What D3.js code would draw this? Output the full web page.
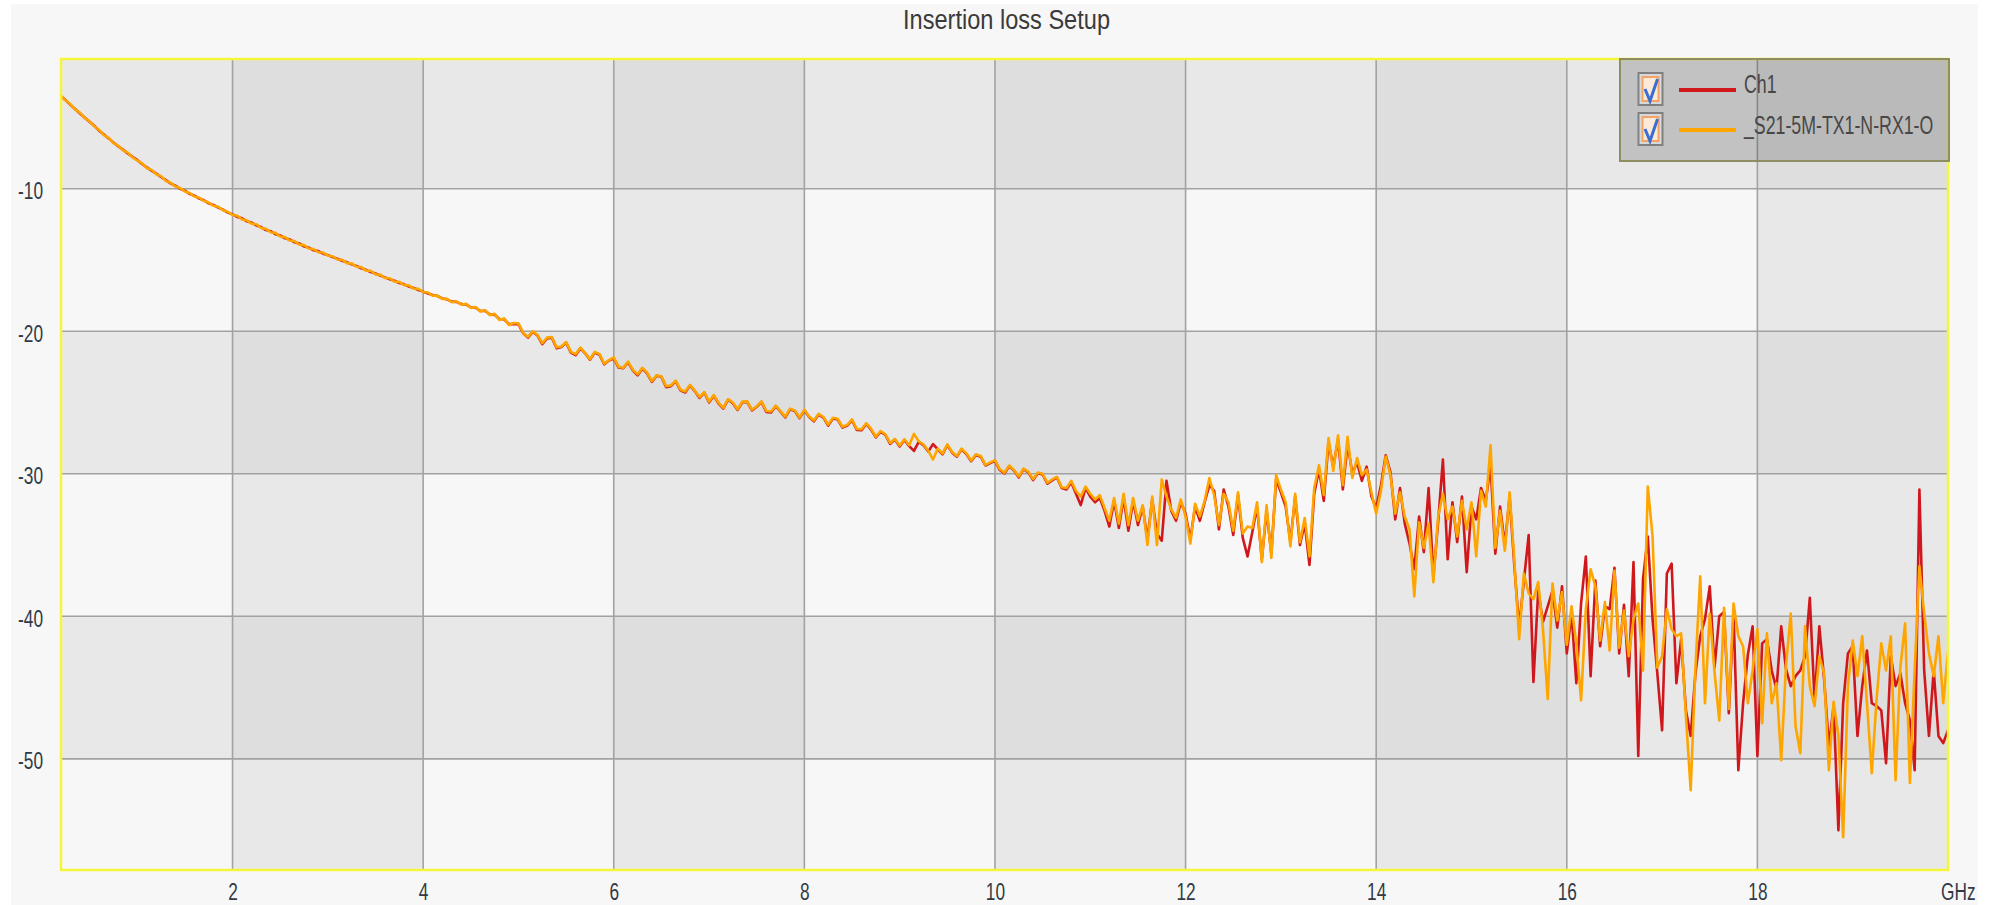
<!DOCTYPE html>
<html>
<head>
<meta charset="utf-8">
<script src="https://cdn.jsdelivr.net/npm/d3@7"></script>
<style>
  html, body { margin: 0; padding: 0; background: #ffffff; }
  svg { display: block; }
</style>
</head>
<body>
<svg id="chart" width="1990" height="905"></svg>
<script>
// ---------------- data ----------------
const chartTitle = "Insertion loss Setup";
const seriesNames = ["Ch1", "_S21-5M-TX1-N-RX1-O"];
const xTicks = [2, 4, 6, 8, 10, 12, 14, 16, 18];
const yTicks = [-10, -20, -30, -40, -50];
const xUnit = "GHz";
const xDomain = [0.2, 20];
const yDomain = [-57.8, -0.9];
const freqStart = 0.2;   // GHz, first sweep point
const freqStep = 0.05;   // GHz, sweep step

// Ch1 (red), dB, one row per GHz
const ch1 = [
  -3.52, -3.8, -4.12, -4.42, -4.72, -5.02, -5.3, -5.6, -5.93, -6.2, -6.47, -6.76, -7.02, -7.26, -7.52, -7.76,
  -7.98, -8.27, -8.5, -8.73, -8.94, -9.18, -9.4, -9.63, -9.79, -10.01, -10.14, -10.36, -10.49, -10.69, -10.81, -11.03, -11.14, -11.33, -11.47, -11.68,
  -11.8, -11.98, -12.08, -12.29, -12.38, -12.58, -12.69, -12.9, -12.98, -13.19, -13.28, -13.48, -13.56, -13.76, -13.84, -14.05, -14.13, -14.32, -14.38, -14.56,
  -14.66, -14.8, -14.92, -15.05, -15.16, -15.31, -15.42, -15.58, -15.69, -15.85, -15.95, -16.1, -16.22, -16.36, -16.46, -16.62, -16.71, -16.86, -16.96, -17.11,
  -17.22, -17.35, -17.46, -17.53, -17.7, -17.76, -17.92, -17.94, -18.1, -18.12, -18.32, -18.34, -18.58, -18.56, -18.82, -18.84, -19.14, -19.16, -19.5, -19.5,
  -19.5, -20.15, -20.45, -20.05, -20.3, -20.9, -20.5, -20.45, -21.2, -21.1, -20.8, -21.5, -21.68, -21.2, -21.55, -22.0, -21.5, -21.65, -22.32, -22.05,
  -21.9, -22.55, -22.6, -22.18, -22.74, -23.1, -22.62, -22.95, -23.56, -23.12, -23.2, -23.92, -23.85, -23.5, -24.15, -24.3, -23.8, -24.2, -24.68, -24.3,
  -25.0, -24.52, -25.08, -25.42, -24.8, -25.05, -25.52, -24.98, -24.96, -25.56, -25.3, -24.96, -25.66, -25.7, -25.26, -25.65, -26.05, -25.48, -25.6, -26.1,
  -25.55, -26.02, -26.32, -25.85, -26.06, -26.62, -26.12, -26.2, -26.76, -26.62, -26.24, -26.92, -26.95, -26.5, -26.9, -27.45, -27.05, -27.28, -27.9, -27.6,
  -28.08, -27.62, -28.06, -28.4, -27.76, -28.0, -28.44, -27.92, -28.28, -28.64, -27.98, -28.52, -28.8, -28.28, -28.62, -29.12, -28.68, -28.8, -29.42, -29.25,
  -29.1, -29.74, -29.98, -29.46, -29.78, -30.26, -29.68, -29.9, -30.44, -29.96, -30.05, -30.7, -30.46, -30.26, -31.0, -31.1, -30.6, -31.4, -32.2, -31.0,
  -31.6, -32.0, -31.7, -32.6, -33.7, -31.9, -33.8, -31.7, -34.0, -31.9, -33.6, -32.3, -34.6, -31.8, -34.2, -34.7, -30.5, -32.6, -33.3, -32.0,
  -32.8, -34.6, -32.3, -33.3, -32.0, -30.8, -31.2, -33.9, -31.1, -32.3, -34.3, -31.5, -34.5, -35.8, -34.1, -32.3, -36.0, -32.6, -35.6, -30.4,
  -31.3, -32.3, -34.8, -31.6, -35.0, -33.5, -36.4, -31.4, -29.7, -31.9, -27.8, -29.5, -27.6, -31.1, -27.9, -30.0, -29.2, -30.5, -29.5, -31.6,
  -32.4, -30.8, -28.7, -29.9, -33.2, -31.0, -33.5, -34.9, -36.7, -33.0, -35.5, -31.0, -37.2, -33.4, -29.0, -36.0, -32.0, -34.8, -31.6, -36.9,
  -32.3, -33.2, -31.0, -31.9, -29.4, -35.6, -32.3, -35.0, -31.6, -36.5, -40.8, -37.5, -34.3, -44.6, -38.2, -40.4, -39.3, -38.2, -40.8, -37.9,
  -42.6, -39.8, -44.7, -39.1, -35.8, -44.2, -37.5, -42.1, -39.3, -39.5, -36.6, -42.6, -39.2, -44.2, -36.2, -49.8, -37.4, -34.4, -40.2, -44.0,
  -48.0, -37.0, -36.3, -44.7, -41.6, -46.6, -48.4, -44.0, -41.4, -40.2, -37.9, -43.6, -40.0, -39.7, -46.8, -39.8, -50.8, -46.1, -42.7, -40.7,
  -49.8, -41.9, -41.6, -43.8, -45.1, -40.7, -43.7, -44.9, -44.2, -43.8, -42.8, -38.7, -45.9, -40.7, -44.4, -49.1, -46.3, -55.0, -46.1, -42.6,
  -42.1, -48.4, -44.9, -42.4, -46.1, -46.3, -46.6, -50.3, -42.8, -44.9, -44.0, -46.1, -47.3, -50.8, -31.1, -43.8, -48.4, -43.8, -48.4, -48.9, -48.0
];

// _S21-5M-TX1-N-RX1-O (orange), dB, one row per GHz
const s21 = [
  -3.5, -3.82, -4.08, -4.45, -4.68, -5.05, -5.27, -5.63, -5.88, -6.24, -6.43, -6.8, -6.98, -7.3, -7.47, -7.8,
  -8.02, -8.22, -8.55, -8.68, -8.99, -9.12, -9.45, -9.58, -9.84, -9.95, -10.19, -10.3, -10.55, -10.63, -10.86, -10.97, -11.2, -11.27, -11.52, -11.62,
  -11.85, -11.9, -12.16, -12.22, -12.45, -12.5, -12.76, -12.82, -13.06, -13.1, -13.36, -13.4, -13.64, -13.68, -13.92, -13.96, -14.2, -14.24, -14.46, -14.48,
  -14.7, -14.74, -14.97, -14.98, -15.22, -15.24, -15.48, -15.5, -15.75, -15.76, -16.01, -16.03, -16.27, -16.28, -16.52, -16.54, -16.77, -16.78, -17.02, -17.03,
  -17.25, -17.28, -17.5, -17.5, -17.73, -17.72, -17.96, -17.9, -18.14, -18.08, -18.36, -18.3, -18.62, -18.52, -18.87, -18.78, -19.2, -19.1, -19.56, -19.42,
  -19.45, -20.12, -20.4, -20.0, -20.27, -20.83, -20.45, -20.41, -21.13, -21.07, -20.76, -21.45, -21.61, -21.15, -21.53, -21.96, -21.45, -21.61, -22.27, -22.03,
  -21.84, -22.5, -22.56, -22.13, -22.7, -23.03, -22.57, -22.9, -23.5, -23.08, -23.17, -23.86, -23.8, -23.47, -24.1, -24.23, -23.77, -24.17, -24.62, -24.28,
  -24.94, -24.48, -25.02, -25.37, -24.76, -25.0, -25.47, -24.94, -24.92, -25.5, -25.28, -24.92, -25.6, -25.63, -25.22, -25.6, -25.99, -25.43, -25.57, -26.06,
  -25.5, -25.98, -26.26, -25.79, -26.02, -26.55, -26.07, -26.14, -26.7, -26.57, -26.19, -26.86, -26.88, -26.46, -26.83, -27.39, -27.0, -27.23, -27.84, -27.56,
  -28.02, -27.58, -28.0, -27.2, -27.72, -27.95, -28.38, -29.0, -28.23, -28.58, -27.94, -28.47, -28.75, -28.24, -28.57, -29.07, -28.63, -28.75, -29.37, -29.2,
  -29.04, -29.68, -29.92, -29.42, -29.73, -30.19, -29.64, -29.85, -30.38, -29.91, -30.0, -30.63, -30.4, -30.22, -30.94, -31.0, -30.5, -31.2, -31.6, -30.9,
  -31.4, -31.8, -31.5, -32.4, -33.3, -31.7, -33.5, -31.4, -33.6, -31.7, -33.3, -32.2, -35.0, -31.6, -35.0, -30.4, -31.6, -32.5, -33.1, -31.8,
  -33.0, -34.9, -32.1, -33.0, -31.9, -30.3, -31.5, -33.6, -31.4, -32.0, -34.0, -31.3, -34.2, -33.7, -33.8, -32.0, -36.2, -32.2, -35.9, -30.1,
  -31.1, -32.0, -35.1, -31.4, -34.8, -33.1, -35.8, -31.0, -29.4, -31.5, -27.5, -29.8, -27.3, -30.8, -27.4, -30.3, -28.9, -30.1, -29.7, -31.3,
  -32.8, -31.2, -28.8, -30.1, -32.8, -31.3, -33.0, -33.9, -38.6, -33.4, -35.2, -33.5, -37.6, -33.0, -31.4, -33.2, -32.3, -34.4, -31.9, -33.9,
  -32.0, -35.8, -31.2, -32.3, -28.0, -35.2, -32.6, -35.4, -31.3, -36.1, -41.6, -37.0, -38.4, -38.8, -37.6, -40.9, -45.8, -37.7, -40.3, -38.3,
  -42.0, -39.3, -41.9, -45.9, -39.5, -36.7, -37.9, -41.7, -39.0, -42.4, -36.8, -42.2, -39.6, -42.8, -40.2, -39.1, -43.8, -30.9, -34.4, -43.6,
  -42.8, -39.5, -40.9, -41.4, -41.2, -47.0, -52.2, -43.6, -37.2, -46.1, -39.8, -43.9, -47.3, -39.4, -46.5, -39.1, -41.4, -42.1, -46.1, -43.8,
  -40.9, -47.5, -41.2, -46.1, -44.7, -50.1, -43.5, -39.8, -47.7, -49.6, -40.7, -44.9, -46.3, -42.8, -44.0, -50.8, -46.0, -48.4, -55.5, -44.9,
  -41.7, -44.2, -41.4, -46.1, -51.0, -45.9, -41.9, -43.8, -41.4, -51.5, -43.6, -40.5, -51.7, -43.8, -36.5, -39.8, -42.6, -44.2, -41.4, -46.1, -42.5
];

const seriesColors = ["#d0181c", "#ffa500"];

// ---------------- layout ----------------
const svg = d3.select("#chart");
const plot = { left: 61, right: 1948, top: 59, bottom: 870 };
const FONT = "'Liberation Sans', Arial, 'DejaVu Sans', sans-serif";
const TEXT_SX = 0.72;   // horizontally condensed look of the original

const x = d3.scaleLinear().domain(xDomain).range([plot.left, plot.right]);
const y = d3.scaleLinear().domain(yDomain).range([plot.bottom, plot.top]);

// panel background
svg.append("rect").attr("x", 11).attr("y", 4).attr("width", 1967).attr("height", 901).attr("fill", "#f7f7f7");

// checkered bands
const xEdges = [xDomain[0], ...xTicks, xDomain[1]];
const yEdges = [yDomain[1], ...yTicks, yDomain[0]];
const bands = [];
for (let c = 0; c < xEdges.length - 1; c++) {
  for (let r = 0; r < yEdges.length - 1; r++) {
    const dark = (c % 2 === 1 ? 1 : 0) + (r % 2 === 0 ? 1 : 0);
    bands.push({ x0: xEdges[c], x1: xEdges[c + 1], y0: yEdges[r], y1: yEdges[r + 1], dark });
  }
}
const bandColor = ["#f7f7f7", "#e8e8e8", "#dedede"];
svg.append("g").selectAll("rect").data(bands).join("rect")
  .attr("x", d => x(d.x0)).attr("width", d => x(d.x1) - x(d.x0))
  .attr("y", d => y(d.y0)).attr("height", d => y(d.y1) - y(d.y0))
  .attr("fill", d => bandColor[d.dark]);

// grid lines
const grid = svg.append("g").attr("stroke", "#a2a2a2").attr("stroke-width", 1.6);
grid.selectAll("line.gx").data(xTicks).join("line").attr("class", "gx")
  .attr("x1", d => x(d)).attr("x2", d => x(d)).attr("y1", plot.top).attr("y2", plot.bottom);
grid.selectAll("line.gy").data(yTicks).join("line").attr("class", "gy")
  .attr("y1", d => y(d)).attr("y2", d => y(d)).attr("x1", plot.left).attr("x2", plot.right);

// series
svg.append("clipPath").attr("id", "clip").append("rect")
  .attr("x", plot.left).attr("y", plot.top).attr("width", plot.right - plot.left).attr("height", plot.bottom - plot.top);
const line = d3.line().x((d, i) => x(freqStart + i * freqStep)).y(d => y(d));
const lines = svg.append("g").attr("clip-path", "url(#clip)").attr("fill", "none")
  .attr("stroke-width", 2.6).attr("stroke-linejoin", "round");
[ch1, s21].forEach((vals, k) => {
  lines.append("path").attr("d", line(vals)).attr("stroke", seriesColors[k]);
});

// plot border
svg.append("rect").attr("x", plot.left).attr("y", plot.top)
  .attr("width", plot.right - plot.left).attr("height", plot.bottom - plot.top)
  .attr("fill", "none").attr("stroke", "#f5f53a").attr("stroke-width", 2.5);

// axes (labels only)
const yAxis = d3.axisLeft(y).tickValues(yTicks).tickSize(0).tickFormat(d => String(d));
const gy = svg.append("g").attr("transform", `translate(${plot.left},0)`).call(yAxis);
gy.select(".domain").remove();
gy.selectAll("text").attr("x", null).attr("dy", null)
  .attr("transform", `translate(-18,10) scale(${TEXT_SX},1)`)
  .attr("text-anchor", "end").attr("fill", "#323a46")
  .style("font-family", FONT).style("font-size", "24px");

const xAxis = d3.axisBottom(x).tickValues(xTicks).tickSize(0).tickFormat(d => String(d));
const gx = svg.append("g").attr("transform", `translate(0,${plot.bottom})`).call(xAxis);
gx.select(".domain").remove();
gx.selectAll("text").attr("y", null).attr("dy", null)
  .attr("transform", `translate(0,30) scale(${TEXT_SX},1)`)
  .attr("text-anchor", "middle").attr("fill", "#323a46")
  .style("font-family", FONT).style("font-size", "24px");

svg.append("text").text(xUnit)
  .attr("transform", `translate(1941,900) scale(${TEXT_SX},1)`)
  .attr("fill", "#323a46").style("font-family", FONT).style("font-size", "24px");

// title
svg.append("text").text(chartTitle)
  .attr("x", 1006.5).attr("y", 29).attr("text-anchor", "middle")
  .attr("textLength", 207).attr("lengthAdjust", "spacingAndGlyphs")
  .attr("fill", "#3a3a3a").style("font-family", FONT).style("font-size", "27px");

// legend
const lg = svg.append("g");
lg.append("rect").attr("x", 1620).attr("y", 59).attr("width", 329).attr("height", 102)
  .attr("fill", "rgba(0,0,0,0.16)").attr("stroke", "#8e8e62").attr("stroke-width", 2);
const legendRowY = [73, 113];
seriesNames.forEach((name, k) => {
  const top = legendRowY[k];
  lg.append("rect").attr("x", 1638.5).attr("y", top).attr("width", 24).attr("height", 32)
    .attr("fill", "#d8d8d8").attr("stroke", "#808080").attr("stroke-width", 2);
  lg.append("rect").attr("x", 1642.5).attr("y", top + 4).attr("width", 16).attr("height", 24)
    .attr("fill", "#fbe9da").attr("stroke", "#f2a468").attr("stroke-width", 2);
  lg.append("path")
    .attr("d", `M1645,${top + 16} L1650,${top + 28} L1657.5,${top + 6}`)
    .attr("fill", "none").attr("stroke", "#3a6fd0").attr("stroke-width", 3);
  lg.append("line").attr("x1", 1679).attr("x2", 1736).attr("y1", top + 17).attr("y2", top + 17)
    .attr("stroke", seriesColors[k]).attr("stroke-width", 4);
  lg.append("text").text(name)
    .attr("transform", `translate(1744,${top + 20 + (k === 0 ? 0 : 1)}) scale(0.71,1)`)
    .attr("fill", "#474747").style("font-family", FONT).style("font-size", "25px");
});
</script>
</body>
</html>
